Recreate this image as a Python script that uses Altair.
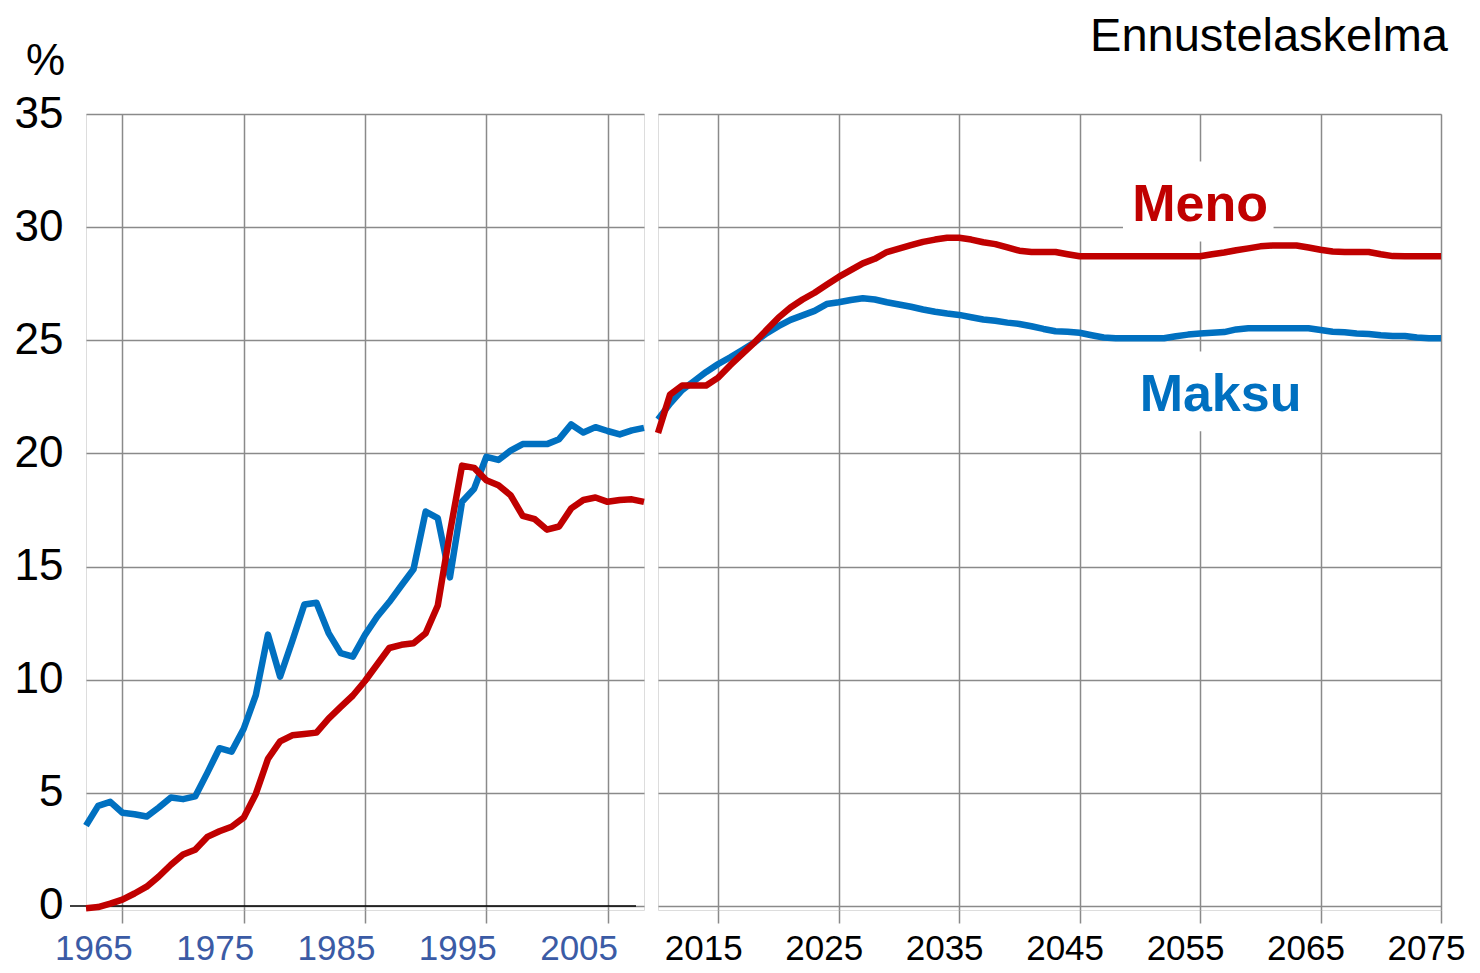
import altair as alt
import pandas as pd

# ---------------- data ----------------
years_left = list(range(1962, 2009))
maksu_left = [3.55, 4.42, 4.6, 4.12, 4.05, 3.95, 4.35, 4.79, 4.72, 4.84,
              5.88, 6.97, 6.82, 7.83, 9.32, 11.99, 10.13, 11.7, 13.32, 13.4,
              12.06, 11.17, 11.02, 11.98, 12.78, 13.43, 14.16, 14.88, 17.43, 17.14,
              14.52, 17.86, 18.44, 19.85, 19.71, 20.12, 20.41, 20.41, 20.41, 20.63,
              21.28, 20.92, 21.16, 20.99, 20.84, 21.02, 21.13]
meno_left = [-0.1, -0.05, 0.1, 0.28, 0.55, 0.85, 1.3, 1.82, 2.27, 2.48,
             3.05, 3.3, 3.5, 3.9, 4.95, 6.5, 7.27, 7.54, 7.6, 7.66,
             8.28, 8.8, 9.3, 9.94, 10.67, 11.4, 11.54, 11.61, 12.05, 13.28,
             16.5, 19.46, 19.36, 18.81, 18.59, 18.15, 17.24, 17.09, 16.63, 16.77,
             17.57, 17.94, 18.05, 17.86, 17.94, 17.97, 17.86]

years_right = list(range(2010, 2076))
meno_right = [20.9, 22.6, 23.0, 23.0, 23.0, 23.35, 23.9, 24.4, 24.9, 25.45,
              26.0, 26.45, 26.8, 27.1, 27.45, 27.8, 28.1, 28.4, 28.6, 28.9,
              29.05, 29.2, 29.35, 29.45, 29.53, 29.53, 29.45, 29.33, 29.25, 29.1,
              28.96, 28.9, 28.9, 28.9, 28.8, 28.71, 28.71, 28.71, 28.71, 28.71,
              28.71, 28.71, 28.71, 28.71, 28.71, 28.71, 28.8, 28.88, 28.98, 29.06,
              29.15, 29.19, 29.19, 29.19, 29.1, 29.0, 28.92, 28.9, 28.9, 28.9,
              28.8, 28.72, 28.71, 28.71, 28.71, 28.71]
maksu_right = [21.5, 22.2, 22.8, 23.2, 23.6, 23.95, 24.25, 24.57, 24.9, 25.3,
               25.62, 25.9, 26.1, 26.3, 26.6, 26.68, 26.78, 26.86, 26.8, 26.68,
               26.58, 26.48, 26.36, 26.26, 26.18, 26.12, 26.02, 25.92, 25.86, 25.78,
               25.72, 25.62, 25.5, 25.4, 25.38, 25.33, 25.22, 25.12, 25.09, 25.09,
               25.09, 25.09, 25.09, 25.18, 25.25, 25.3, 25.33, 25.36, 25.48, 25.53,
               25.53, 25.53, 25.53, 25.53, 25.53, 25.45, 25.38, 25.35, 25.3, 25.28,
               25.22, 25.19, 25.19, 25.12, 25.09, 25.09]

y_ticks = [0, 5, 10, 15, 20, 25, 30, 35]
x_ticks_left = [1965, 1975, 1985, 1995, 2005]
x_ticks_right = [2015, 2025, 2035, 2045, 2055, 2065, 2075]

label_names = ["Meno", "Maksu"]
label_colors = ["#C00000", "#0070C0"]
label_x = [2055.0, 2056.7]
label_y = [30.27, 21.87]
box_x1 = [2048.6, 2049.9]
box_x2 = [2061.1, 2064.1]
box_y1 = [29.37, 20.98]
box_y2 = [32.9, 24.5]

# ---------------- styling ----------------
FONT = "Liberation Sans"
BLUE = "#0070C0"
RED = "#C00000"
GRID = "#8a8a8a"
LW = 6.5

y_scale = alt.Scale(domain=[-0.18, 35], nice=False, zero=False)
xl_scale = alt.Scale(domain=[1962, 2008], nice=False, zero=False)
xr_scale = alt.Scale(domain=[2010, 2075], nice=False, zero=False)

x_axis_common = dict(grid=True, gridColor=GRID, gridWidth=1.5, tickColor=GRID,
                     tickWidth=1.5, tickSize=13, domain=False, labelFont=FONT,
                     labelFontSize=35, labelPadding=8, labelFlush=False,
                     labelOverlap=False, labelBound=False, format="d", title=None)
xl_axis = alt.Axis(values=x_ticks_left, labelColor="#3B5BA5", labelOffset=-29, **x_axis_common)
xr_axis = alt.Axis(values=x_ticks_right, labelColor="black", labelOffset=-15, **x_axis_common)

yl_axis = alt.Axis(values=y_ticks, grid=True, gridColor=GRID, gridWidth=1.5, ticks=False,
                   domain=False, labelFont=FONT, labelFontSize=44, labelColor="black",
                   labelPadding=23, labelFlush=False, labelOverlap=False,
                   title="%", titleFont=FONT, titleFontSize=44, titleFontWeight="normal",
                   titleColor="black", titleAngle=0, titleX=-41, titleY=-40,
                   titleAlign="center", titleBaseline="alphabetic")
yr_axis = alt.Axis(values=y_ticks, grid=True, gridColor=GRID, gridWidth=1.5, ticks=False,
                   domain=False, labels=False, title=None)

left_df = pd.DataFrame({"year": years_left, "Maksu": maksu_left, "Meno": meno_left})
right_df = pd.DataFrame({"year": years_right, "Maksu": maksu_right, "Meno": meno_right})
labels_df = pd.DataFrame({"name": label_names, "c": label_colors, "x": label_x, "y": label_y,
                          "x1": box_x1, "x2": box_x2, "y1": box_y1, "y2": box_y2})


def panel(df, xscale, xaxis, yaxis):
    base = alt.Chart(df)
    blue = base.mark_line(color=BLUE, strokeWidth=LW, strokeJoin="round").encode(
        x=alt.X("year:Q", scale=xscale, axis=xaxis),
        y=alt.Y("Maksu:Q", scale=y_scale, axis=yaxis))
    red = base.mark_line(color=RED, strokeWidth=LW, strokeJoin="round").encode(
        x=alt.X("year:Q", scale=xscale, axis=xaxis),
        y=alt.Y("Meno:Q", scale=y_scale, axis=yaxis))
    return blue, red


bl, rl = panel(left_df, xl_scale, xl_axis, yl_axis)
zero_rule = alt.Chart(pd.DataFrame({"Maksu": [0]})).mark_rule(color="black", strokeWidth=1.5).encode(
    y=alt.Y("Maksu:Q", scale=y_scale, axis=yl_axis),
    x=alt.value(-16), x2=alt.value(550))
left = alt.layer(bl, zero_rule, rl).properties(width=558, height=796)

br, rr = panel(right_df, xr_scale, xr_axis, yr_axis)
boxes = alt.Chart(labels_df).mark_rect(color="white").encode(
    x=alt.X("x1:Q", scale=xr_scale, axis=xr_axis), x2="x2",
    y=alt.Y("y1:Q", scale=y_scale, axis=yr_axis), y2="y2")
texts = alt.Chart(labels_df).mark_text(font=FONT, fontSize=52, fontWeight="bold",
                                       align="center", baseline="alphabetic").encode(
    x=alt.X("x:Q", scale=xr_scale, axis=xr_axis),
    y=alt.Y("y:Q", scale=y_scale, axis=yr_axis),
    text="name:N", color=alt.Color("c:N", scale=None))
head = alt.Chart(pd.DataFrame({"t": ["Ennustelaskelma"]})).mark_text(
    font=FONT, fontSize=47, align="right", baseline="alphabetic", color="black").encode(
    text="t:N", x=alt.value(790), y=alt.value(-63))
right = alt.layer(boxes, br, rr, texts, head).properties(width=783, height=796)

chart = alt.hconcat(left, right, spacing=14, bounds="flush").properties(
    padding={"left": 5, "top": 4, "right": 0, "bottom": -2}
).configure_view(stroke="#5677a8", strokeWidth=1.2).configure(background="white")

chart.save("out.html", embed_options={"renderer": "svg", "actions": False})
